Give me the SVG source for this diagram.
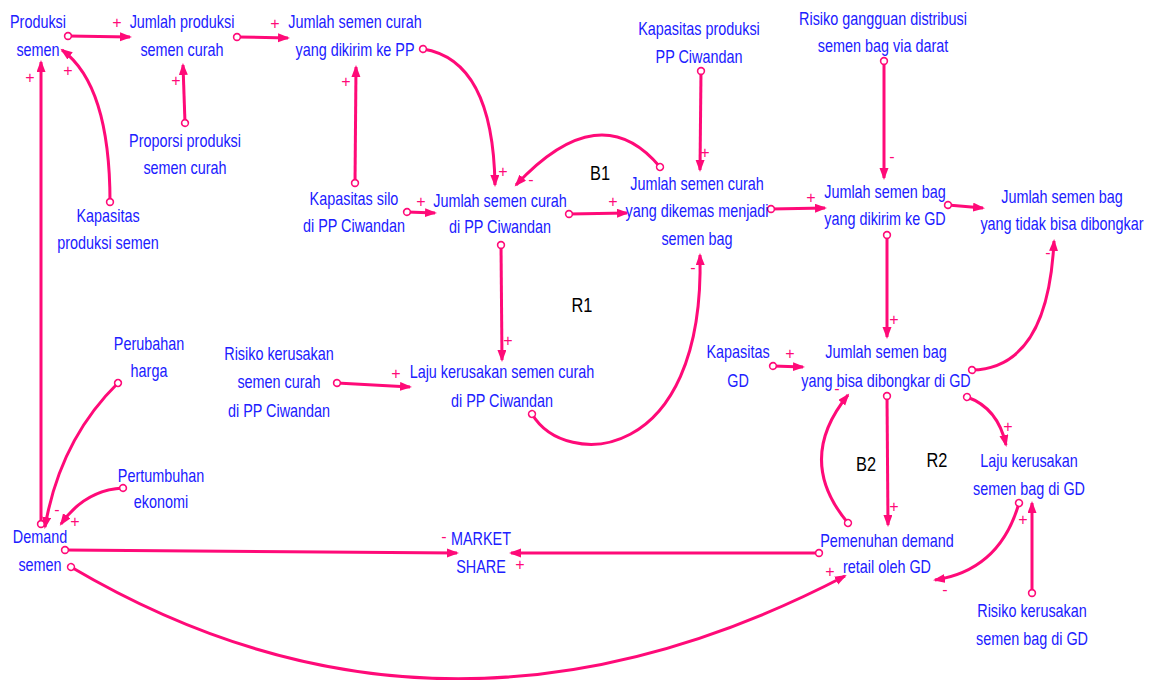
<svg xmlns="http://www.w3.org/2000/svg" width="1151" height="680" viewBox="0 0 1151 680">
<style>
.n text{font-family:"Liberation Sans",Arial,sans-serif;font-size:18px;fill:#2020FF;text-anchor:middle}
.lp text{font-family:"Liberation Sans",Arial,sans-serif;font-size:20px;fill:#000;text-anchor:middle}
.s{font-family:"Liberation Sans",Arial,sans-serif;font-size:16px;fill:#FF0A78;text-anchor:middle}
.c path{fill:none;stroke:#FF0A78;stroke-width:3;marker-start:url(#tail);marker-end:url(#head)}
</style>
<defs>
<marker id="head" markerUnits="userSpaceOnUse" markerWidth="14" markerHeight="10" refX="10" refY="4.5" orient="auto">
<path d="M0,0 L12,4.5 L0,9 z" fill="#FF0A78"/>
</marker>
<marker id="tail" markerUnits="userSpaceOnUse" markerWidth="10" markerHeight="10" refX="5" refY="5" orient="auto">
<circle cx="5" cy="5" r="3.4" fill="#fff" stroke="#FF0A78" stroke-width="1.6"/>
</marker>
</defs>
<rect width="1151" height="680" fill="#fff"/>
<g id="connectors" class="c">
<path d="M68,36 L130,37"/>
<path d="M237,37 L288,38"/>
<path d="M185,123 L183,65"/>
<path d="M110,202 Q110,85 62,50"/>
<path d="M41,524 L41,62"/>
<path d="M355,183 L356,67"/>
<path d="M407,212 L435,213"/>
<path d="M423,49 Q493,60 495,185"/>
<path d="M569,214 L627,213"/>
<path d="M660,167 Q600,95 516,185"/>
<path d="M501,245 L502,360"/>
<path d="M337,383 L410,387"/>
<path d="M532,414 C565,470 705,465 700,255"/>
<path d="M701,71 L700,170"/>
<path d="M771,209 L825,208"/>
<path d="M884,61 L884,178"/>
<path d="M948,205 L983,208"/>
<path d="M887,235 L887,337"/>
<path d="M972,370 Q1048,368 1054,241"/>
<path d="M773,366 L803,367"/>
<path d="M887,396 L888,525"/>
<path d="M848,523 Q795,460 848,395"/>
<path d="M967,397 Q998,408 1006,445"/>
<path d="M1019,503 Q1000,570 935,580"/>
<path d="M1032,593 L1032,503"/>
<path d="M819,553 L511,553"/>
<path d="M65,550 L457,553"/>
<path d="M118,383 Q60,440 45,527"/>
<path d="M123,488 Q85,490 61,524"/>
<path d="M71,567 Q442,786 845,576"/>
</g>
<g id="signs">
<text class="s" x="117" y="28">+</text>
<text class="s" x="275" y="29">+</text>
<text class="s" x="176" y="86">+</text>
<text class="s" x="68" y="76">+</text>
<text class="s" x="30" y="83">+</text>
<text class="s" x="346" y="87">+</text>
<text class="s" x="421" y="207">+</text>
<text class="s" x="503" y="177">+</text>
<text class="s" x="613" y="207">+</text>
<text class="s" x="531" y="185">-</text>
<text class="s" x="508" y="346">+</text>
<text class="s" x="396" y="379">+</text>
<text class="s" x="693" y="273">-</text>
<text class="s" x="705" y="158">+</text>
<text class="s" x="811" y="203">+</text>
<text class="s" x="892" y="162">-</text>
<text class="s" x="894" y="325">+</text>
<text class="s" x="1048" y="258">-</text>
<text class="s" x="790" y="359">+</text>
<text class="s" x="894" y="512">+</text>
<text class="s" x="837" y="394">-</text>
<text class="s" x="1008" y="432">+</text>
<text class="s" x="1023" y="525">+</text>
<text class="s" x="945" y="595">-</text>
<text class="s" x="520" y="570">+</text>
<text class="s" x="444" y="542">-</text>
<text class="s" x="57" y="515">-</text>
<text class="s" x="75" y="527">+</text>
<text class="s" x="830" y="577">+</text>
</g>
<g class="lp">
<text transform="translate(600 180) scale(0.82 1)">B1</text>
<text transform="translate(582 312) scale(0.82 1)">R1</text>
<text transform="translate(866 471) scale(0.82 1)">B2</text>
<text transform="translate(937 467) scale(0.82 1)">R2</text>
</g>
<g class="n">
<g id="produksi-semen" transform="translate(38 0) scale(0.8 1)"><text y="28">Produksi</text><text y="56">semen</text></g>
<g id="jumlah-produksi-semen-curah" transform="translate(182 0) scale(0.8 1)"><text y="28">Jumlah produksi</text><text y="56">semen curah</text></g>
<g id="jumlah-semen-curah-dikirim" transform="translate(355 0) scale(0.8 1)"><text y="28">Jumlah semen curah</text><text y="56">yang dikirim ke PP</text></g>
<g id="proporsi-produksi" transform="translate(185 0) scale(0.8 1)"><text y="147">Proporsi produksi</text><text y="174">semen curah</text></g>
<g id="kapasitas-produksi-semen" transform="translate(108 0) scale(0.8 1)"><text y="222">Kapasitas</text><text y="249">produksi semen</text></g>
<g id="kapasitas-silo" transform="translate(354 0) scale(0.8 1)"><text y="205">Kapasitas silo</text><text y="232">di PP Ciwandan</text></g>
<g id="jumlah-semen-curah-pp" transform="translate(500 0) scale(0.8 1)"><text y="207">Jumlah semen curah</text><text y="233">di PP Ciwandan</text></g>
<g id="jumlah-semen-curah-dikemas" transform="translate(697 0) scale(0.8 1)"><text y="190">Jumlah semen curah</text><text y="217">yang dikemas menjadi</text><text y="245">semen bag</text></g>
<g id="kapasitas-produksi-pp" transform="translate(699 0) scale(0.8 1)"><text y="35">Kapasitas produksi</text><text y="63">PP Ciwandan</text></g>
<g id="risiko-gangguan" transform="translate(883 0) scale(0.8 1)"><text y="25">Risiko gangguan distribusi</text><text y="52">semen bag via darat</text></g>
<g id="jumlah-semen-bag-dikirim" transform="translate(885 0) scale(0.8 1)"><text y="198">Jumlah semen bag</text><text y="225">yang dikirim ke GD</text></g>
<g id="jumlah-semen-bag-tidak" transform="translate(1062 0) scale(0.8 1)"><text y="203">Jumlah semen bag</text><text y="230">yang tidak bisa dibongkar</text></g>
<g id="laju-kerusakan-curah" transform="translate(502 0) scale(0.8 1)"><text y="378">Laju kerusakan semen curah</text><text y="407">di PP Ciwandan</text></g>
<g id="risiko-kerusakan-curah" transform="translate(279 0) scale(0.8 1)"><text y="360">Risiko kerusakan</text><text y="388">semen curah</text><text y="417">di PP Ciwandan</text></g>
<g id="kapasitas-gd" transform="translate(738 0) scale(0.8 1)"><text y="358">Kapasitas</text><text y="387">GD</text></g>
<g id="jumlah-semen-bag-bisa" transform="translate(886 0) scale(0.8 1)"><text y="358">Jumlah semen bag</text><text y="387">yang bisa dibongkar di GD</text></g>
<g id="pemenuhan-demand" transform="translate(887 0) scale(0.8 1)"><text y="547">Pemenuhan demand</text><text y="573">retail oleh GD</text></g>
<g id="laju-kerusakan-bag" transform="translate(1029 0) scale(0.8 1)"><text y="467">Laju kerusakan</text><text y="495">semen bag di GD</text></g>
<g id="risiko-kerusakan-bag" transform="translate(1032 0) scale(0.8 1)"><text y="617">Risiko kerusakan</text><text y="645">semen bag di GD</text></g>
<g id="market-share" transform="translate(481 0) scale(0.8 1)"><text y="545">MARKET</text><text y="573">SHARE</text></g>
<g id="perubahan-harga" transform="translate(149 0) scale(0.8 1)"><text y="350">Perubahan</text><text y="377">harga</text></g>
<g id="pertumbuhan-ekonomi" transform="translate(161 0) scale(0.8 1)"><text y="482">Pertumbuhan</text><text y="508">ekonomi</text></g>
<g id="demand-semen" transform="translate(40 0) scale(0.8 1)"><text y="543">Demand</text><text y="571">semen</text></g>
</g>
</svg>
